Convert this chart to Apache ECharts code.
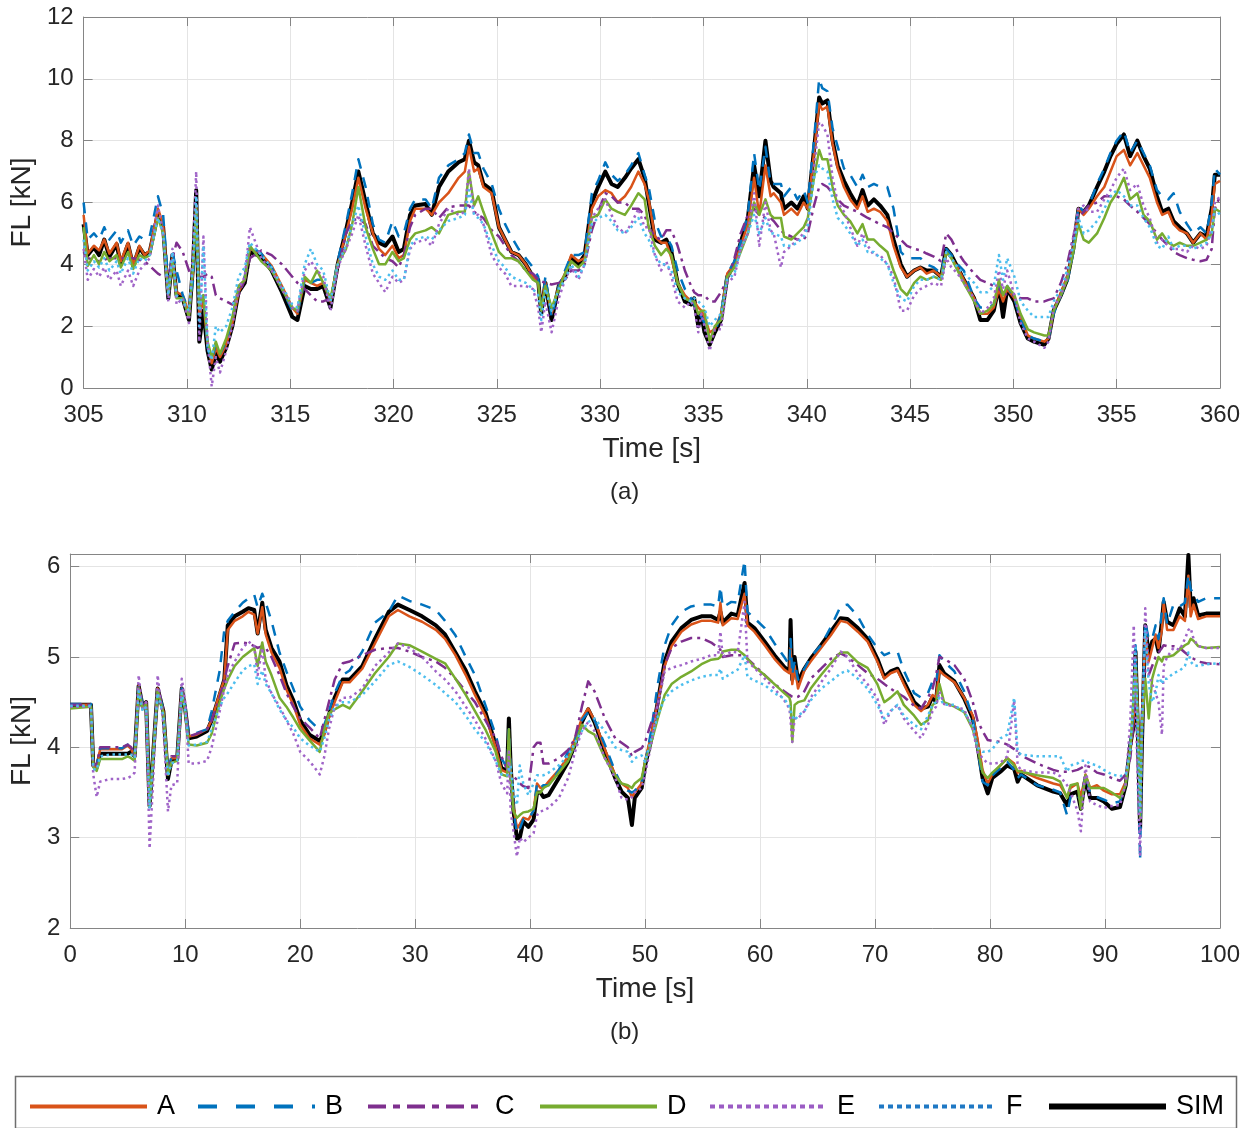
<!DOCTYPE html>
<html><head><meta charset="utf-8">
<script src="https://cdn.jsdelivr.net/npm/echarts@6/dist/echarts.min.js"></script>
<style>html,body{margin:0;padding:0;background:#fff}#c{width:1253px;height:1128px}</style>
</head><body><div id="c"></div><script>
// ---------- Panel (a) ----------
const a_time = [305, 305.2, 305.5, 305.75, 306, 306.25, 306.6, 306.8, 307.15, 307.4, 307.7, 307.95, 308.2, 308.6, 308.85, 309.1, 309.3, 309.5, 309.8, 310.1, 310.3, 310.45, 310.6, 310.8, 311.0, 311.2, 311.4, 311.6, 311.9, 312.2, 312.5, 312.8, 313.05, 313.6, 314.1, 314.6, 315.1, 315.35, 315.7, 316.0, 316.3, 316.6, 316.95, 317.3, 317.7, 318.0, 318.3,
318.65, 319.0, 319.3, 319.6, 319.95, 320.25, 320.5, 320.8, 321.05, 321.55, 321.85, 322.2, 322.65, 323.15, 323.45, 323.65, 323.9, 324.1, 324.35, 324.75, 325.1, 325.4, 325.7, 326.05, 326.4, 326.75, 327.0, 327.15, 327.35, 327.65, 328.0, 328.3, 328.6, 328.95, 329.25, 329.6, 329.9, 330.25, 330.55, 330.85, 331.2, 331.5, 331.85, 332.15,
332.35, 332.65, 332.95, 333.2, 333.45, 333.75, 334.1, 334.4, 334.55, 334.75, 334.9, 335.05, 335.3, 335.55, 335.85, 336.15, 336.5, 336.8, 337.15, 337.45, 337.7, 338.0, 338.25, 338.4, 338.75, 338.9, 339.25, 339.55, 339.85, 340.05, 340.35, 340.6, 340.75, 341.0, 341.25, 341.5, 341.8, 342.1, 342.45, 342.7, 342.95, 343.25, 343.55, 343.9, 344.2, 344.55, 344.85, 345.2, 345.5, 345.8, 346.15,
346.5, 346.75, 347.0, 347.3, 347.6, 348.1, 348.4, 348.75, 349.05, 349.3, 349.5, 349.7, 350.05, 350.35, 350.7, 351.0, 351.5, 351.7, 351.95, 352.3, 352.6, 352.9, 353.15, 353.4, 353.65, 354.05, 354.4, 354.7, 355.0, 355.35, 355.65, 356.0, 356.3, 356.6, 356.95, 357.2, 357.5, 357.75, 358.05, 358.4, 358.7, 359.05, 359.35, 359.6, 359.75, 360];

const a_SIM = [5.3, 4.3, 4.55, 4.3, 4.8, 4.25, 4.65, 4.0, 4.65, 3.95, 4.55, 4.3, 4.4, 5.65, 5.2, 2.9, 4.3, 3.0, 2.9, 2.2, 4.0, 6.4, 1.5, 2.5, 1.2, 0.6, 1.1, 0.85, 1.3, 2.0, 3.1, 3.4, 4.4, 4.25, 3.8, 3.1, 2.3, 2.2, 3.3, 3.2, 3.2, 3.3, 2.6, 4.0, 5.1, 6.0, 7.0,
6.0, 5.0, 4.7, 4.6, 4.9, 4.4, 4.5, 5.6, 5.9, 5.95, 5.6, 6.5, 7.0, 7.3, 7.4, 8.0, 7.3, 7.2, 6.6, 6.4, 5.2, 4.8, 4.4, 4.3, 4.0, 3.6, 3.5, 2.4, 3.4, 2.2, 3.3, 3.6, 4.2, 4.0, 4.3, 6.0, 6.5, 7.0, 6.6, 6.5, 6.8, 7.1, 7.4, 6.8,
6.0, 4.8, 4.7, 4.8, 4.4, 3.4, 2.8, 2.7, 2.9, 2.0, 2.4, 1.8, 1.4, 1.8, 2.2, 3.6, 4.0, 4.7, 5.5, 7.2, 6.2, 8.0, 6.7, 6.5, 6.3, 5.8, 6.0, 5.8, 6.2, 5.8, 7.7, 9.4, 9.2, 9.3, 8.0, 7.2, 6.7, 6.3, 5.9, 6.4, 5.9, 6.1, 5.9, 5.6, 4.8, 4.0, 3.6, 3.8, 3.9, 3.8, 3.8,
3.6, 4.5, 4.3, 3.9, 3.5, 2.9, 2.2, 2.2, 2.5, 3.3, 2.3, 3.2, 2.8, 2.1, 1.6, 1.5, 1.4, 1.6, 2.5, 3.0, 3.5, 4.5, 5.8, 5.7, 5.9, 6.5, 7.0, 7.5, 7.9, 8.2, 7.5, 8.0, 7.5, 7.1, 6.2, 5.7, 5.8, 5.4, 5.2, 5.0, 4.7, 5.0, 4.9, 5.8, 6.9, 6.9];

const a_A = [5.6, 4.35, 4.6, 4.45, 4.8, 4.35, 4.7, 4.1, 4.7, 4.0, 4.6, 4.3, 4.45, 5.8, 5.3, 3.1, 4.2, 3.1, 3.0, 2.4, 3.8, 5.9, 2.4, 2.8, 1.4, 0.8, 1.3, 1.0, 1.4, 2.1, 3.1, 3.5, 4.5, 4.35, 3.95, 3.3, 2.6, 2.4, 3.5, 3.4, 3.3, 3.4, 2.8, 4.0, 5.0, 5.8, 6.8,
5.8, 5.0, 4.5, 4.3, 4.6, 4.2, 4.3, 5.4, 5.8, 5.8, 5.6, 6.0, 6.3, 6.8, 7.0, 7.8, 7.0, 7.1, 6.5, 6.3, 5.2, 4.8, 4.4, 4.3, 4.0, 3.6, 3.4, 2.6, 3.4, 2.4, 3.3, 3.7, 4.3, 4.1, 4.2, 5.8, 6.2, 6.4, 6.3, 6.0, 6.2, 6.5, 7.0, 6.6,
6.1, 4.9, 4.7, 4.7, 4.2, 3.4, 3.0, 2.8, 2.8, 2.6, 2.5, 2.3, 1.8, 1.9, 2.4, 3.7, 4.0, 4.6, 5.3, 6.8, 5.6, 7.2, 6.2, 6.3, 6.0, 5.6, 5.8, 5.6, 6.0, 5.8, 7.6, 9.2, 9.0, 9.1, 7.9, 7.1, 6.5, 6.1, 5.8, 6.2, 5.7, 5.8, 5.7, 5.4, 4.6, 3.9, 3.6, 3.8, 3.9, 3.7, 3.8,
3.6, 4.4, 4.2, 3.9, 3.5, 2.9, 2.4, 2.4, 2.6, 3.2, 2.8, 3.2, 2.9, 2.3, 1.7, 1.6, 1.5, 1.6, 2.5, 3.1, 3.6, 4.5, 5.8, 5.6, 5.8, 6.2, 6.5, 7.0, 7.5, 7.7, 7.2, 7.6, 7.2, 6.8, 6.0, 5.6, 5.7, 5.3, 5.1, 5.0, 4.7, 5.0, 4.8, 5.6, 6.6, 6.7];

const a_B = [6.0, 4.8, 5.0, 4.8, 5.2, 4.8, 5.1, 4.7, 5.1, 4.6, 4.9, 4.8, 4.9, 6.2, 5.6, 3.4, 4.4, 3.8, 3.0, 2.5, 3.5, 5.7, 2.6, 3.0, 1.3, 0.9, 1.4, 1.1, 1.5, 2.2, 3.2, 3.6, 4.6, 4.35, 3.9, 3.2, 2.5, 2.4, 3.5, 3.4, 3.5, 3.5, 2.8, 4.1, 5.3, 6.3, 7.4,
6.5, 5.3, 4.8, 4.7, 5.4, 4.9, 5.0, 5.8, 6.1, 6.1, 5.8, 6.8, 7.2, 7.4, 7.6, 8.2, 7.6, 7.6, 7.1, 6.6, 5.8, 5.3, 4.9, 4.5, 4.2, 3.9, 3.6, 2.5, 3.6, 2.3, 3.3, 3.8, 4.3, 4.3, 4.4, 6.3, 6.7, 7.3, 6.9, 6.7, 6.9, 7.2, 7.6, 6.9,
6.5, 5.4, 4.9, 4.9, 4.6, 3.8, 3.2, 2.9, 2.7, 2.5, 2.3, 2.1, 1.6, 1.8, 2.4, 3.7, 4.1, 4.7, 5.6, 7.6, 6.4, 7.8, 6.6, 6.6, 6.6, 6.2, 6.5, 6.1, 6.4, 6.0, 8.0, 10.0, 9.7, 9.6, 8.4, 7.8, 7.1, 6.9, 6.5, 6.9, 6.5, 6.6, 6.5, 6.5, 5.8, 4.4, 4.2, 4.2, 4.2, 4.0, 3.9,
3.7, 4.5, 4.3, 4.0, 3.8, 2.9, 2.6, 2.6, 2.7, 3.3, 3.0, 3.3, 2.9, 2.2, 1.7, 1.6, 1.5, 1.6, 2.4, 3.0, 3.4, 4.4, 5.9, 5.7, 5.9, 6.6, 7.1, 7.6, 8.0, 8.3, 7.6, 8.0, 7.6, 7.2, 6.4, 6.2, 6.1, 6.3, 5.7, 5.3, 5.0, 5.2, 5.0, 6.0, 7.1, 6.9];

const a_C = [4.4, 4.2, 4.15, 4.1, 4.15, 4.2, 4.2, 4.2, 4.2, 4.2, 4.15, 4.1, 3.95, 3.7, 3.6, 3.6, 4.2, 4.7, 4.4, 3.8, 3.5, 3.5, 3.6, 3.6, 3.7, 3.6, 3.0, 2.9, 2.8, 2.7, 3.0, 3.5, 4.2, 4.45, 4.3, 4.0, 3.6, 3.4, 3.2, 3.0, 2.8, 2.8, 2.9, 3.8, 5.0, 5.4, 5.5,
5.3, 4.6, 4.4, 4.2, 4.1, 3.9, 4.3, 5.2, 5.6, 5.8, 5.8, 5.5, 5.85, 5.9, 5.9, 5.9, 5.7, 5.6, 5.5, 5.1, 4.9, 4.6, 4.3, 4.1, 3.8, 3.7, 3.5, 3.45, 3.4, 3.35, 3.4, 3.5, 3.8, 3.8, 4.0, 5.1, 5.7, 6.3, 6.2, 6.0, 6.0, 5.8, 5.8, 5.6,
5.2, 4.9, 4.8, 5.1, 5.1, 4.6, 3.8, 3.3, 3.1, 3.0, 3.0, 3.0, 2.8, 2.8, 3.1, 3.5, 4.2, 5.0, 5.6, 5.8, 5.6, 5.5, 5.5, 5.4, 5.1, 5.0, 4.9, 4.8, 4.8, 5.0, 5.9, 6.5, 6.6, 6.5, 6.3, 6.1, 5.9, 5.8, 5.7, 5.6, 5.5, 5.4, 5.3, 5.2, 5.0, 4.8, 4.6, 4.5, 4.45, 4.35, 4.25,
4.1, 5.0, 4.8, 4.4, 4.1, 3.7, 3.5, 3.4, 3.3, 3.2, 3.1, 3.0, 3.0, 2.9, 2.9, 2.8, 2.8, 2.85, 2.9, 3.4, 4.0, 4.9, 5.5, 5.7, 5.9, 6.0, 6.2, 6.2, 6.2, 6.1, 5.9, 5.7, 5.5, 5.3, 5.0, 4.8, 4.6, 4.4, 4.3, 4.2, 4.15, 4.1, 4.15, 4.5, 5.8, 6.2];

const a_D = [5.2, 3.95, 4.3, 4.0, 4.4, 4.1, 4.3, 3.9, 4.4, 3.85, 4.3, 4.2, 4.3, 5.5, 5.0, 3.0, 4.1, 2.9, 2.9, 2.3, 4.0, 5.8, 2.6, 3.0, 1.5, 1.0, 1.5, 1.1, 1.6, 2.3, 3.3, 3.5, 4.6, 4.1, 3.8, 3.2, 2.6, 2.5, 3.6, 3.4, 3.8, 3.4, 2.9, 4.0, 4.5, 5.3, 6.5,
5.2, 4.5, 4.0, 4.0, 4.4, 4.1, 4.2, 4.8, 5.0, 5.1, 5.2, 5.0, 5.6, 5.7, 5.7, 7.0, 5.9, 6.2, 5.7, 5.0, 4.4, 4.2, 4.2, 4.1, 3.8, 3.5, 3.4, 2.5, 3.3, 2.6, 3.2, 3.7, 4.1, 3.9, 4.1, 5.5, 5.6, 6.1, 5.8, 5.7, 5.6, 5.9, 6.3, 6.1,
5.2, 4.6, 4.3, 4.5, 4.3, 3.4, 2.9, 2.8, 2.8, 2.4, 2.5, 2.5, 1.5, 2.0, 2.2, 3.6, 3.9, 4.4, 5.0, 6.0, 5.6, 6.1, 5.6, 5.5, 5.5, 4.9, 4.8, 5.0, 5.2, 5.5, 6.8, 7.7, 7.4, 7.4, 6.5, 5.9, 5.6, 5.4, 5.0, 5.3, 4.8, 4.8, 4.6, 4.4, 3.8, 3.2, 3.0, 3.4, 3.6, 3.5, 3.6,
3.5, 4.4, 4.2, 3.8, 3.4, 2.8, 2.4, 2.5, 2.7, 3.5, 3.0, 3.3, 3.0, 2.4, 1.9, 1.8, 1.7, 1.7, 2.5, 3.0, 3.5, 4.4, 5.3, 4.8, 4.7, 5.0, 5.5, 6.0, 6.3, 6.8, 6.1, 6.3, 5.6, 5.4, 4.8, 5.0, 4.7, 4.6, 4.7, 4.6, 4.6, 4.7, 4.8, 5.0, 5.8, 5.7];

const a_E = [4.5, 3.5, 3.85, 3.6, 3.9, 3.5, 3.8, 3.3, 3.8, 3.3, 3.8, 4.0, 4.2, 5.9, 5.0, 2.8, 4.5, 2.7, 2.9, 2.1, 4.5, 7.0, 1.5, 4.9, 1.5, 0.05, 1.0, 0.5, 1.2, 2.0, 3.2, 3.6, 5.2, 4.2, 3.8, 3.2, 2.6, 2.5, 3.8, 4.1, 3.8, 3.6, 2.5, 3.9, 4.5, 5.0, 5.6,
4.6, 3.7, 3.4, 3.1, 3.6, 3.4, 3.5, 4.5, 4.7, 4.8, 4.6, 5.3, 5.8, 5.6, 5.7, 7.1, 5.6, 5.6, 5.3, 4.3, 3.9, 3.7, 3.3, 3.3, 3.3, 3.2, 2.6, 1.8, 2.8, 1.8, 2.9, 3.5, 3.9, 3.5, 4.0, 5.5, 5.8, 6.1, 5.6, 5.2, 5.0, 5.3, 5.8, 5.2,
5.2, 4.3, 3.8, 4.1, 3.6, 2.8, 2.6, 2.8, 2.6, 1.8, 2.4, 2.0, 1.2, 1.9, 1.9, 3.4, 3.6, 4.5, 5.0, 6.3, 4.6, 6.0, 5.1, 5.0, 3.9, 4.4, 4.6, 4.8, 5.0, 5.3, 7.1, 8.6, 8.5, 8.2, 6.8, 6.0, 5.7, 5.2, 4.6, 5.0, 4.6, 4.3, 4.3, 4.0, 3.6, 2.5, 2.5, 3.0, 3.2, 3.3, 3.4,
3.3, 4.2, 3.9, 3.7, 3.4, 2.9, 2.4, 2.6, 2.9, 3.8, 3.2, 3.8, 3.0, 2.1, 1.6, 1.5, 1.3, 1.5, 2.6, 3.0, 3.6, 4.9, 5.8, 5.9, 5.7, 5.7, 6.1, 6.4, 6.8, 7.1, 6.4, 6.6, 5.9, 5.5, 4.7, 4.8, 4.6, 4.5, 4.5, 4.4, 4.6, 4.5, 4.6, 5.2, 6.0, 6.2];

const a_F = [4.8, 3.8, 4.1, 3.9, 4.2, 3.8, 4.1, 3.7, 4.2, 3.7, 4.2, 4.1, 4.3, 5.5, 5.0, 3.0, 4.4, 3.0, 2.8, 2.5, 4.0, 6.2, 2.0, 4.6, 1.3, 0.9, 2.0, 1.8, 2.0, 2.6, 3.6, 3.9, 4.7, 4.3, 3.9, 3.3, 2.7, 2.6, 4.0, 4.5, 4.0, 3.8, 2.8, 4.0, 4.6, 5.3, 5.9,
4.9, 4.0, 3.6, 3.5, 3.8, 3.5, 3.5, 4.6, 4.8, 4.9, 4.8, 5.1, 5.4, 5.5, 5.6, 6.4, 5.6, 5.5, 5.3, 4.6, 4.1, 3.9, 3.6, 3.5, 3.4, 3.2, 3.0, 2.2, 3.2, 2.5, 3.2, 3.5, 4.0, 3.6, 4.0, 5.3, 5.5, 5.6, 5.4, 5.1, 5.0, 5.2, 5.5, 5.0,
4.8, 4.3, 4.0, 4.0, 3.8, 3.1, 2.9, 2.8, 2.9, 2.8, 2.7, 2.6, 2.0, 2.2, 2.4, 3.5, 3.7, 4.5, 5.0, 5.6, 5.0, 5.5, 5.0, 5.0, 4.9, 4.6, 4.6, 4.7, 4.9, 5.2, 6.8, 7.2, 7.1, 7.0, 6.1, 5.5, 5.3, 5.0, 4.6, 4.8, 4.4, 4.4, 4.2, 4.0, 3.4, 2.9, 2.8, 3.3, 3.5, 3.5, 3.6,
3.5, 4.4, 4.2, 3.9, 3.7, 3.4, 3.1, 3.1, 3.3, 4.3, 3.5, 4.2, 3.6, 2.8, 2.5, 2.3, 2.3, 2.3, 2.8, 3.2, 3.8, 4.6, 5.5, 5.0, 5.1, 5.4, 5.8, 6.2, 6.4, 6.2, 5.9, 5.9, 5.5, 5.2, 4.6, 4.5, 4.9, 4.5, 4.6, 4.6, 4.5, 4.6, 4.7, 5.0, 5.8, 5.6];

// ---------- Panel (b) ----------
const b_time = [0, 1.8, 2.0, 2.3, 2.6, 3.5, 4.5, 5.0, 5.3, 5.6, 5.95, 6.3, 6.6, 6.9, 7.2, 7.6, 8.1, 8.5, 8.8, 9.3, 9.7, 10.0, 10.3, 11.0, 11.9, 12.3, 13.0, 13.4, 13.7, 14.3, 15.0, 15.5, 16.0, 16.3, 16.7, 17.0, 17.5, 18.2, 18.8, 19.4, 20.0, 20.8, 21.7, 22.1, 22.5, 23.0, 23.7,
24.3, 25.4, 26.5, 27.7, 28.5, 29.5, 30.6, 31.8, 32.6, 33.5, 34.4, 35.2, 36.1, 37.0, 37.5, 38.0, 38.15, 38.3, 38.55, 38.85, 39.1, 39.4, 39.85, 40.3, 40.6, 40.9, 41.15, 41.6, 42.5, 43.3, 43.9, 44.5, 45.05, 45.6, 46.5, 47.4, 47.95, 48.5, 48.85, 49.1, 49.7,
50.0, 50.55, 51.1, 51.7, 52.3, 53.15, 54.0, 54.9, 55.75, 56.35, 56.55, 56.75, 57.5, 58.05, 58.65, 58.9, 59.5, 60.4, 61.25, 62.1, 62.55, 62.65, 62.8, 63.0, 63.3, 63.85, 64.4, 65.3, 66.15, 67.0, 67.6, 68.5, 69.35, 70.2, 70.8, 71.35, 71.95, 72.5, 73.4, 74.0,
74.6, 75.0, 75.3, 75.6, 76.0, 76.9, 77.75, 78.5, 78.9, 79.35, 79.8, 80.2, 80.9, 81.5, 82.1, 82.4, 82.7, 84.1, 85.5, 86.1, 86.7, 87.0, 87.6, 87.9, 88.3, 88.7, 89.3, 89.9, 90.6, 91.3, 91.8, 92.2, 92.5, 92.65, 92.85, 93.05, 93.2, 93.5, 93.8, 94.1, 94.4, 94.65, 94.95, 95.1, 95.4, 95.95, 96.5, 96.95, 97.25, 97.45, 97.7, 98.1, 98.8, 100];

const b_SIM = [4.47, 4.47, 3.8, 3.78, 3.93, 3.93, 3.93, 3.93, 3.95, 3.9, 4.68, 4.45, 4.5, 3.35, 3.9, 4.65, 4.4, 3.65, 3.85, 3.87, 4.65, 4.42, 4.1, 4.12, 4.18, 4.3, 4.58, 4.75, 5.35, 5.45, 5.5, 5.54, 5.52, 5.26, 5.6, 5.3, 5.1, 4.95, 4.69, 4.52, 4.3, 4.14, 4.07, 4.17, 4.36, 4.55, 4.75,
4.75, 4.9, 5.2, 5.5, 5.58, 5.52, 5.45, 5.35, 5.25, 5.05, 4.85, 4.62, 4.39, 4.03, 3.77, 3.74, 4.32, 3.8, 3.3, 2.99, 3.0, 3.18, 3.12, 3.2, 3.5, 3.5, 3.45, 3.47, 3.66, 3.84, 4.03, 4.28, 4.42, 4.28, 3.95, 3.66, 3.51, 3.44, 3.14, 3.44, 3.55,
3.8, 4.1, 4.5, 4.95, 5.17, 5.32, 5.41, 5.45, 5.45, 5.41, 5.5, 5.38, 5.48, 5.46, 5.82, 5.38, 5.32, 5.17, 5.02, 4.89, 4.84, 5.41, 4.75, 5.0, 4.73, 4.87, 4.98, 5.13, 5.28, 5.43, 5.42, 5.32, 5.2, 4.98, 4.78, 4.84, 4.87, 4.73, 4.5, 4.43,
4.45, 4.56, 4.5, 4.91, 4.82, 4.73, 4.54, 4.32, 4.03, 3.66, 3.49, 3.66, 3.73, 3.8, 3.76, 3.62, 3.7, 3.58, 3.51, 3.49, 3.36, 3.48, 3.51, 3.32, 3.66, 3.44, 3.44, 3.4, 3.32, 3.34, 3.58, 4.03, 4.25, 5.06, 4.2, 3.1, 4.0, 5.35, 5.02, 5.17, 5.2, 5.06, 5.4, 5.61, 5.39, 5.35, 5.54, 5.45, 6.13, 5.55, 5.65, 5.46, 5.48, 5.48];

const b_A = [4.47, 4.47, 3.8, 3.78, 3.98, 3.98, 3.98, 4.02, 3.98, 3.9, 4.68, 4.45, 4.5, 3.35, 3.9, 4.65, 4.4, 3.7, 3.88, 3.88, 4.65, 4.42, 4.12, 4.14, 4.2, 4.3, 4.6, 4.75, 5.3, 5.4, 5.45, 5.5, 5.47, 5.26, 5.55, 5.25, 5.05, 4.88, 4.64, 4.47, 4.25, 4.1, 4.03, 4.14, 4.33, 4.5, 4.72,
4.72, 4.87, 5.15, 5.45, 5.52, 5.45, 5.39, 5.3, 5.2, 5.02, 4.8, 4.58, 4.35, 4.0, 3.75, 3.72, 4.1, 3.75, 3.35, 3.1, 3.15, 3.22, 3.2, 3.3, 3.6, 3.55, 3.55, 3.62, 3.75, 3.9, 4.1, 4.32, 4.43, 4.3, 3.98, 3.69, 3.6, 3.55, 3.45, 3.5, 3.6,
3.85, 4.15, 4.5, 4.9, 5.12, 5.28, 5.36, 5.4, 5.4, 5.38, 5.6, 5.35, 5.43, 5.42, 5.7, 5.35, 5.28, 5.13, 4.98, 4.86, 4.82, 5.1, 4.7, 4.9, 4.65, 4.85, 4.95, 5.1, 5.24, 5.4, 5.38, 5.28, 5.17, 4.95, 4.76, 4.82, 4.85, 4.7, 4.47, 4.4,
4.47, 4.58, 4.55, 4.85, 4.8, 4.72, 4.55, 4.35, 4.1, 3.75, 3.6, 3.7, 3.8, 3.88, 3.82, 3.72, 3.74, 3.66, 3.6, 3.58, 3.45, 3.55, 3.6, 3.45, 3.7, 3.55, 3.58, 3.52, 3.48, 3.48, 3.62, 4.0, 4.3, 5.0, 4.3, 3.3, 4.2, 5.25, 4.95, 5.1, 5.25, 5.1, 5.3, 5.6, 5.3, 5.3, 5.45, 5.4, 5.9, 5.45, 5.58, 5.42, 5.45, 5.45];

const b_B = [4.48, 4.48, 3.82, 3.8, 3.99, 3.99, 3.99, 4.03, 3.99, 3.92, 4.68, 4.47, 4.5, 3.38, 3.92, 4.65, 4.42, 3.72, 3.9, 3.9, 4.65, 4.45, 4.15, 4.16, 4.2, 4.4, 4.85, 5.3, 5.4, 5.5, 5.6, 5.65, 5.69, 5.55, 5.7, 5.6, 5.4, 5.05, 4.84, 4.65, 4.45, 4.3, 4.19, 4.25, 4.4, 4.6, 4.8,
4.85, 5.06, 5.38, 5.5, 5.68, 5.62, 5.58, 5.52, 5.4, 5.24, 5.0, 4.8, 4.47, 4.14, 3.88, 3.77, 4.2, 3.8, 3.3, 3.05, 3.1, 3.2, 3.2, 3.3, 3.6, 3.55, 3.58, 3.58, 3.75, 3.95, 4.08, 4.3, 4.39, 4.3, 4.03, 3.73, 3.58, 3.52, 3.5, 3.52, 3.6,
3.82, 4.2, 4.7, 5.13, 5.35, 5.5, 5.56, 5.58, 5.58, 5.56, 5.78, 5.55, 5.61, 5.6, 6.07, 5.5, 5.43, 5.32, 5.15, 5.0, 4.91, 5.2, 4.8, 4.95, 4.75, 4.87, 5.0, 5.13, 5.33, 5.56, 5.58, 5.45, 5.25, 5.1, 5.02, 5.05, 5.06, 4.85, 4.6, 4.55,
4.6, 4.73, 4.7, 5.02, 4.95, 4.84, 4.62, 4.32, 4.0, 3.62, 3.58, 3.69, 3.77, 3.84, 3.75, 3.66, 3.7, 3.58, 3.53, 3.5, 3.25, 3.45, 3.48, 3.4, 3.7, 3.5, 3.45, 3.42, 3.38, 3.4, 3.6, 4.05, 4.4, 5.13, 4.0, 2.75, 4.0, 5.39, 5.2, 5.2, 5.35, 5.2, 5.5, 5.65, 5.36, 5.58, 5.56, 5.6, 5.91, 5.75, 5.7, 5.61, 5.65, 5.65];

const b_C = [4.47, 4.47, 3.82, 3.8, 4.0, 4.0, 4.0, 4.03, 4.0, 3.92, 4.66, 4.45, 4.5, 3.4, 3.92, 4.66, 4.42, 3.72, 3.9, 3.9, 4.65, 4.45, 4.12, 4.15, 4.2, 4.3, 4.55, 4.75, 4.9, 5.15, 5.16, 5.15, 5.12, 5.1, 5.12, 5.1, 5.0, 4.8, 4.6, 4.45, 4.32, 4.22, 4.1, 4.3, 4.5, 4.75, 4.93,
4.95, 5.02, 5.08, 5.1, 5.1, 5.06, 5.0, 4.95, 4.88, 4.76, 4.62, 4.5, 4.3, 4.1, 3.9, 3.76, 3.74, 3.72, 3.68, 3.64, 3.6, 3.57, 3.55, 4.0, 4.05, 4.05, 3.82, 3.82, 3.88, 3.97, 4.1, 4.45, 4.73, 4.62, 4.32, 4.1, 4.05, 4.0, 3.9, 3.95, 3.99,
4.06, 4.28, 4.47, 4.91, 5.1, 5.17, 5.21, 5.21, 5.16, 5.1, 5.08, 5.0, 5.02, 5.02, 5.02, 4.98, 4.91, 4.8, 4.7, 4.62, 4.58, 4.57, 4.56, 4.55, 4.56, 4.62, 4.76, 4.87, 4.98, 5.04, 5.0, 4.91, 4.82, 4.76, 4.7, 4.65, 4.6, 4.56, 4.46, 4.43,
4.55, 4.65, 4.8, 5.0, 4.98, 4.91, 4.76, 4.5, 4.3, 4.18, 4.08, 4.07, 4.06, 4.03, 3.98, 3.95, 3.91, 3.82, 3.75, 3.73, 3.73, 3.73, 3.75, 3.77, 3.8, 3.78, 3.72, 3.7, 3.66, 3.63, 3.7, 3.88, 4.3, 4.7, 4.4, 3.3, 4.3, 4.85, 4.8, 4.9, 5.0, 5.05, 5.1, 5.13, 5.12, 5.12, 5.1, 5.05, 5.02, 5.0, 4.98, 4.95, 4.93, 4.92];

const b_D = [4.43, 4.45, 3.78, 3.74, 3.87, 3.87, 3.87, 3.9, 3.88, 3.85, 4.65, 4.42, 4.48, 3.35, 3.88, 4.63, 4.38, 3.7, 3.83, 3.85, 4.62, 4.4, 4.03, 4.02, 4.05, 4.15, 4.5, 4.65, 4.75, 4.9, 5.0, 5.05, 5.1, 4.9, 5.16, 4.95, 4.8, 4.55, 4.45, 4.33, 4.2, 4.08, 3.95, 4.2, 4.38, 4.42, 4.47,
4.43, 4.62, 4.82, 5.0, 5.15, 5.13, 5.06, 4.98, 4.93, 4.76, 4.58, 4.4, 4.2, 3.95, 3.7, 3.68, 4.2, 3.68, 3.29, 3.22, 3.25, 3.28, 3.29, 3.32, 3.5, 3.5, 3.55, 3.58, 3.72, 3.85, 4.03, 4.25, 4.18, 4.14, 3.88, 3.69, 3.6, 3.58, 3.55, 3.6, 3.66,
3.84, 4.06, 4.32, 4.58, 4.7, 4.78, 4.84, 4.92, 4.97, 4.98, 5.0, 5.06, 5.08, 5.08, 5.02, 4.98, 4.89, 4.8, 4.7, 4.6, 4.55, 4.5, 4.06, 4.47, 4.5, 4.52, 4.65, 4.8, 4.93, 5.05, 5.05, 4.94, 4.88, 4.7, 4.5, 4.55, 4.62, 4.47, 4.35, 4.25,
4.3, 4.47, 4.5, 4.7, 4.5, 4.45, 4.39, 4.2, 4.0, 3.72, 3.66, 3.72, 3.8, 3.88, 3.8, 3.74, 3.73, 3.69, 3.66, 3.62, 3.44, 3.58, 3.6, 3.32, 3.69, 3.55, 3.55, 3.55, 3.5, 3.44, 3.58, 4.0, 4.6, 4.9, 4.3, 3.2, 4.2, 4.76, 4.32, 4.76, 4.9, 5.0, 4.95, 5.0, 5.0, 5.02, 5.08, 5.13, 5.15, 5.2, 5.18, 5.12, 5.1, 5.11];

const b_E = [4.45, 4.45, 3.7, 3.45, 3.62, 3.65, 3.65, 3.66, 3.68, 3.72, 4.8, 4.4, 4.5, 2.88, 3.6, 4.8, 4.25, 3.29, 3.58, 3.6, 4.76, 4.5, 3.82, 3.82, 3.85, 4.0, 4.4, 4.65, 4.8, 4.95, 5.1, 5.17, 5.12, 4.8, 5.1, 4.75, 4.6, 4.45, 4.3, 4.15, 3.95, 3.85, 3.7, 3.9, 4.2, 4.45, 4.55,
4.55, 4.65, 4.9, 5.05, 5.15, 5.1, 5.0, 4.84, 4.75, 4.62, 4.45, 4.3, 4.1, 3.85, 3.6, 3.49, 3.95, 3.3, 3.07, 2.79, 3.0, 2.95, 3.0, 3.05, 3.25, 3.29, 3.3, 3.33, 3.44, 3.66, 3.95, 4.18, 4.28, 4.18, 3.88, 3.66, 3.44, 3.42, 3.45, 3.5, 3.55,
3.7, 4.05, 4.47, 4.84, 4.88, 4.91, 4.95, 4.98, 5.02, 5.02, 5.28, 5.0, 5.06, 5.05, 5.61, 4.95, 4.88, 4.76, 4.65, 4.52, 4.43, 4.3, 4.06, 4.32, 4.32, 4.4, 4.55, 4.72, 4.87, 5.06, 5.0, 4.82, 4.7, 4.54, 4.25, 4.4, 4.47, 4.32, 4.18, 4.1,
4.25, 4.4, 4.45, 4.62, 4.48, 4.45, 4.42, 4.2, 3.95, 3.88, 3.82, 3.82, 3.83, 3.9, 4.52, 3.8, 3.75, 3.72, 3.72, 3.68, 3.58, 3.5, 3.3, 3.07, 3.8, 3.4, 3.36, 3.33, 3.35, 3.36, 3.6, 4.3, 5.35, 4.6, 3.6, 2.81, 4.0, 5.54, 4.8, 4.7, 4.6, 4.5, 4.14, 4.9, 5.0, 5.1, 5.08, 5.2, 5.3, 5.32, 5.2, 5.12, 5.1, 5.1];

const b_F = [4.46, 4.46, 3.76, 3.75, 3.9, 3.92, 3.92, 3.92, 3.92, 3.88, 4.62, 4.4, 4.45, 3.32, 3.86, 4.6, 4.35, 3.68, 3.82, 3.85, 4.6, 4.4, 4.02, 4.03, 4.06, 4.2, 4.45, 4.55, 4.6, 4.72, 4.85, 4.9, 4.92, 4.7, 4.85, 4.7, 4.6, 4.42, 4.3, 4.22, 4.1, 4.02, 3.95, 4.1, 4.3, 4.45, 4.5,
4.5, 4.58, 4.73, 4.91, 4.95, 4.89, 4.8, 4.69, 4.6, 4.5, 4.35, 4.2, 4.06, 3.85, 3.7, 3.69, 3.75, 3.8, 3.5, 3.36, 3.8, 3.6, 3.47, 3.6, 3.69, 3.69, 3.69, 3.72, 3.8, 3.91, 4.05, 4.18, 4.28, 4.32, 4.18, 4.0, 3.97, 3.95, 3.84, 3.88, 3.91,
3.84, 4.1, 4.35, 4.54, 4.62, 4.69, 4.74, 4.78, 4.8, 4.8, 4.87, 4.76, 4.82, 4.86, 5.02, 4.78, 4.74, 4.69, 4.6, 4.54, 4.45, 4.4, 4.35, 4.3, 4.35, 4.4, 4.52, 4.65, 4.73, 4.82, 4.85, 4.76, 4.65, 4.47, 4.32, 4.4, 4.47, 4.35, 4.25, 4.2,
4.35, 4.47, 4.5, 4.55, 4.47, 4.47, 4.39, 4.25, 4.0, 3.95, 3.95, 3.98, 4.1, 4.14, 4.55, 3.95, 3.92, 3.9, 3.9, 3.9, 3.73, 3.8, 3.82, 3.85, 3.85, 3.82, 3.8, 3.75, 3.7, 3.68, 3.7, 3.95, 4.6, 5.1, 4.2, 3.3, 4.3, 5.3, 4.7, 4.5, 4.6, 4.8, 4.7, 4.76, 4.76, 4.82, 4.85, 4.9, 5.05, 4.95, 4.91, 4.9, 4.92, 4.93];

const seriesNames = ['A', 'B', 'C', 'D', 'E', 'F', 'SIM'];
const panelA = {A: a_A, B: a_B, C: a_C, D: a_D, E: a_E, F: a_F, SIM: a_SIM};
const panelB = {A: b_A, B: b_B, C: b_C, D: b_D, E: b_E, F: b_F, SIM: b_SIM};
const xTicksA = {min: 305, max: 360, step: 5};
const yTicksA = {min: 0, max: 12, step: 2};
const xTicksB = {min: 0, max: 100, step: 10};
const yTicksB = {min: 2, max: 6.14, step: 1};

// ---------- styling ----------
const FONT = 'Liberation Sans, Arial, Helvetica, sans-serif';
const AX = '#858585', TXT = '#262626', GRIDC = '#e4e4e4';
const styles = {
  A: {color: '#D95319', width: 2.5, type: 'solid'},
  B: {color: '#0072BD', width: 2.5, type: [11, 9]},
  C: {color: '#7E2F8E', width: 2.5, type: [12, 5, 3, 5]},
  D: {color: '#77AC30', width: 2.5, type: 'solid'},
  E: {color: '#A064C8', width: 2.5, type: [2.5, 3.5]},
  F: {color: '#4DBEEE', width: 2.5, type: [2.5, 3.5]},
  SIM: {color: '#000000', width: 4, type: 'solid'}
};
const legendStyles = {
  A: {color: '#D95319', width: 4, type: 'solid'},
  B: {color: '#0072BD', width: 4, type: [19, 19]},
  C: {color: '#7E2F8E', width: 4, type: [18, 7, 7, 7]},
  D: {color: '#77AC30', width: 4, type: 'solid'},
  E: {color: '#9B5CC4', width: 4, type: [5, 4]},
  F: {color: '#1F78C4', width: 4, type: [5, 4]},
  SIM: {color: '#000000', width: 6, type: 'solid'}
};
const legendLeft = {A: 28, B: 196, C: 366, D: 538, E: 708, F: 877, SIM: 1046};

function xAx(grid, r, pos, isMain) {
  return {
    type: 'value', gridIndex: grid, position: pos, min: r.min, max: r.max, interval: r.step,
    axisLine: {show: true, onZero: false, lineStyle: {color: AX, width: 1}},
    axisTick: {show: true, inside: true, length: 9, lineStyle: {color: AX}},
    axisLabel: {show: isMain, color: TXT, fontSize: 24, fontFamily: FONT, margin: 15},
    splitLine: {show: isMain, lineStyle: {color: GRIDC, width: 1}},
    name: isMain ? 'Time [s]' : '', nameLocation: 'middle', nameGap: 47,
    nameTextStyle: {color: TXT, fontSize: 28, fontFamily: FONT}
  };
}
function yAx(grid, r, pos, isMain, gap, hideMax) {
  return {
    type: 'value', gridIndex: grid, position: pos, min: r.min, max: r.max, interval: r.step,
    axisLine: {show: true, onZero: false, lineStyle: {color: AX, width: 1}},
    axisTick: {show: true, inside: true, length: 9, lineStyle: {color: AX}},
    axisLabel: {show: isMain, color: TXT, fontSize: 24, fontFamily: FONT, margin: 10,
      showMaxLabel: !hideMax,
      formatter: v => (Math.abs(v - Math.round(v)) < 1e-6 ? String(Math.round(v)) : '')},
    splitLine: {show: isMain, lineStyle: {color: GRIDC, width: 1}},
    name: isMain ? 'FL [kN]' : '', nameLocation: 'middle', nameGap: gap, nameRotate: 90,
    nameTextStyle: {color: TXT, fontSize: 28, fontFamily: FONT}
  };
}

const series = [];
const order = ['SIM', 'A', 'B', 'C', 'D', 'E', 'F'];
[[panelA, a_time, 0], [panelB, b_time, 2]].forEach(([p, t, ax]) => {
  order.forEach((n, k) => {
    series.push({
      type: 'line', name: n, xAxisIndex: ax, yAxisIndex: ax,
      data: t.map((x, i) => [x, p[n][i]]),
      showSymbol: false, symbol: 'none', animation: false, z: 2 + k,
      lineStyle: Object.assign({}, styles[n], {cap: 'butt', join: 'round'}),
      itemStyle: {color: styles[n].color},
      emphasis: {disabled: true}, silent: true
    });
  });
});

const legends = seriesNames.map(n => ({
  data: [{name: n, lineStyle: legendStyles[n],
          itemStyle: {color: 'rgba(0,0,0,0)', opacity: 0, borderWidth: 0}}],
  left: legendLeft[n], top: 1093, orient: 'horizontal', padding: 0,
  itemWidth: 117, itemHeight: 20, selectedMode: false,
  itemStyle: {color: 'rgba(0,0,0,0)', opacity: 0, borderWidth: 0},
  textStyle: {color: '#000', fontSize: 27, fontFamily: FONT, padding: [0, 0, 0, 5]}
}));

const chart = echarts.init(document.getElementById('c'), null, {renderer: 'canvas'});
chart.setOption({
  animation: false,
  backgroundColor: '#ffffff',
  grid: [
    {left: 80, top: 17, width: 1140, height: 371, containLabel: false},
    {left: 67, top: 554, width: 1153, height: 374, containLabel: false}
  ],
  xAxis: [xAx(0, xTicksA, 'bottom', true), xAx(0, xTicksA, 'top', false),
          xAx(1, xTicksB, 'bottom', true), xAx(1, xTicksB, 'top', false)],
  yAxis: [yAx(0, yTicksA, 'left', true, 42, false), yAx(0, yTicksA, 'right', false, 0, false),
          yAx(1, yTicksB, 'left', true, 30, true), yAx(1, yTicksB, 'right', false, 0, true)],
  legend: legends,
  series: series,
  graphic: [
    {type: 'text', left: 610, top: 480, style: {text: '(a)', fontSize: 24, fontFamily: FONT, fill: TXT}},
    {type: 'text', left: 610, top: 1020, style: {text: '(b)', fontSize: 24, fontFamily: FONT, fill: TXT}},
    {type: 'rect', shape: {x: 15.5, y: 1076.5, width: 1221, height: 52}, style: {fill: 'none', stroke: '#6e6e6e', lineWidth: 1.5}, silent: true}
  ]
});

// sanity check of array lengths
const bad = [];
seriesNames.forEach(n => {
  if (panelA[n].length !== a_time.length) bad.push('a_' + n + ':' + panelA[n].length + '/' + a_time.length);
  if (panelB[n].length !== b_time.length) bad.push('b_' + n + ':' + panelB[n].length + '/' + b_time.length);
});
if (bad.length) throw new Error('Length mismatch: ' + bad.join(', '));
</script></body></html>
